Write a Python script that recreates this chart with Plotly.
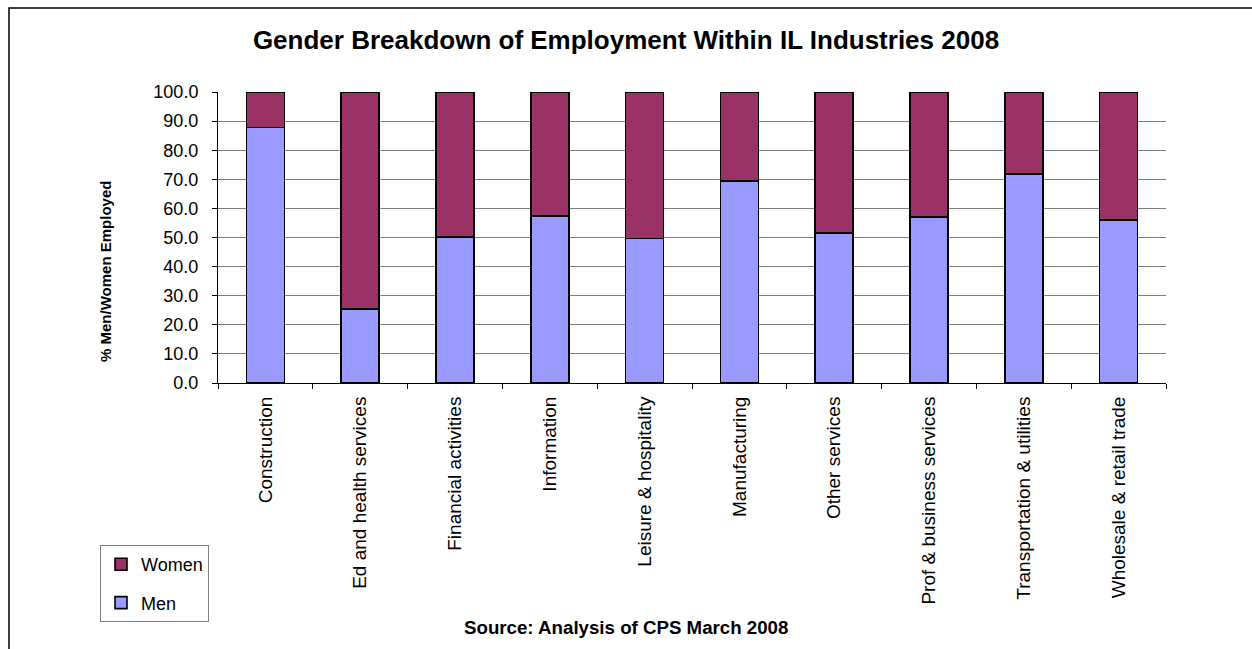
import plotly.graph_objects as go

# Illinois industries, CPS March 2008
industries = [
    "Construction", "Ed and health services", "Financial activities",
    "Information", "Leisure & hospitality", "Manufacturing",
    "Other services", "Prof & business services",
    "Transportation & utilities", "Wholesale & retail trade",
]
men_pct = [87.8, 25.5, 50.1, 57.3, 49.7, 69.4, 51.6, 57.1, 71.8, 56.1]
women_pct = [round(100 - m, 1) for m in men_pct]

y_ticks = [0, 10, 20, 30, 40, 50, 60, 70, 80, 90, 100]

FONT = "Arial, Liberation Sans, sans-serif"
W, H = 1252, 649
L, R, T, B = 218, 86, 92, 266
pw, ph = W - L - R, H - T - B


def px_x(x):
    return (x - L) / pw


def px_y(y):
    return (H - B - y) / ph


fig = go.Figure()
fig.add_trace(go.Bar(
    x=industries, y=men_pct, name="Men", legendgroup="m", legendrank=2,
    marker=dict(color="#9999FF", line=dict(color="black", width=1.6)),
))
fig.add_trace(go.Bar(
    x=industries, y=women_pct, name="Women", legendgroup="w", legendrank=1,
    marker=dict(color="#993366", line=dict(color="black", width=1.6)),
))

fig.update_layout(
    width=W, height=H,
    margin=dict(l=L, r=R, t=T, b=B),
    barmode="stack", bargap=0.6,
    paper_bgcolor="white", plot_bgcolor="white",
    font=dict(family=FONT, color="black"),
    title=dict(
        text="<b>Gender Breakdown of Employment Within IL Industries 2008</b>",
        x=0.5, xref="container", xanchor="center",
        y=1 - 40 / H, yref="container", yanchor="middle",
        font=dict(size=26, family=FONT, color="black"),
    ),
    xaxis=dict(
        tickangle=-90, tickfont=dict(size=19), showgrid=False,
        showline=True, linecolor="black", linewidth=1,
        ticks="outside", tickson="boundaries", ticklen=5, tickcolor="black",
        ticklabelstandoff=5,
    ),
    yaxis=dict(
        range=[0, 100], tickvals=y_ticks,
        ticktext=[f"{v:.1f}" for v in y_ticks], tickfont=dict(size=18),
        showgrid=True, gridcolor="#808080", gridwidth=1,
        showline=True, linecolor="black", linewidth=1,
        ticks="outside", ticklen=5, tickcolor="black", zeroline=False,
        ticklabelstandoff=10,
    ),
    legend=dict(
        traceorder="grouped", tracegroupgap=12,
        x=px_x(100), y=px_y(545), xanchor="left", yanchor="top",
        bordercolor="#808080", borderwidth=1, bgcolor="white",
        font=dict(size=18, family=FONT), itemwidth=30,
    ),
    annotations=[
        dict(
            text="<b>% Men/Women Employed</b>", textangle=-90,
            x=px_x(105), y=px_y(272), xref="paper", yref="paper",
            xanchor="center", yanchor="middle",
            showarrow=False, font=dict(size=15, family=FONT),
        ),
        dict(
            text="<b>Source: Analysis of CPS March 2008</b>",
            x=px_x(W / 2), y=px_y(627), xref="paper", yref="paper",
            xanchor="center", yanchor="middle", showarrow=False,
            font=dict(size=18.7, family=FONT),
        ),
    ],
    shapes=[
        dict(
            type="rect", xref="paper", yref="paper",
            x0=px_x(9), x1=px_x(1400), y0=px_y(800), y1=px_y(8),
            line=dict(color="black", width=1.5), layer="below",
        ),
    ],
)

fig.write_html("out.html")
